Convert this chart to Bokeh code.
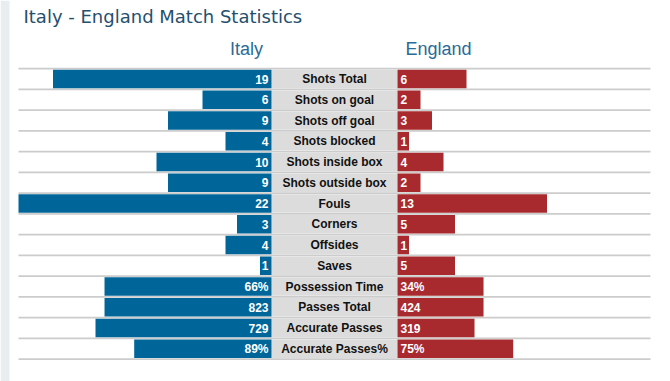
from bokeh.plotting import figure
from bokeh.models import Range1d, ColumnDataSource
from bokeh.core.properties import value
from bokeh.embed import file_html
from bokeh.resources import INLINE

title = "Italy - England Match Statistics"
team_home = "Italy"
team_away = "England"
stats = ["Shots Total", "Shots on goal", "Shots off goal", "Shots blocked",
         "Shots inside box", "Shots outside box", "Fouls", "Corners",
         "Offsides", "Saves", "Possession Time", "Passes Total",
         "Accurate Passes", "Accurate Passes%"]
home = [19, 6, 9, 4, 10, 9, 22, 3, 4, 1, 66, 823, 729, 89]
away = [6, 2, 3, 1, 4, 2, 13, 5, 1, 5, 34, 424, 319, 75]
pct = [False] * 10 + [True, False, False, True]
# rows scaled against the largest count; the last four against their own row total
share_row = [False] * 10 + [True, True, True, True]

W, H = 670, 381
CX = 334              # center of label column
FULL = 253            # px for a full-length bar
HALF_BOX = 63
ROW0, ROWH = 78.5, 20.75
BAR_H = 18.5

max_count = max(max(h, a) for h, a, s in zip(home, away, share_row) if not s)

rows_y, h_left, h_right, a_left, a_right = [], [], [], [], []
h_lbl, a_lbl = [], []
for i, (h, a, s, pc) in enumerate(zip(home, away, share_row, pct)):
    denom = (h + a) if s else max_count
    y = ROW0 + ROWH * i
    rows_y.append(y)
    h_right.append(CX - HALF_BOX)
    h_left.append(CX - HALF_BOX - FULL * h / denom)
    a_left.append(CX + HALF_BOX)
    a_right.append(CX + HALF_BOX + FULL * a / denom)
    h_lbl.append(f"{h}%" if pc else str(h))
    a_lbl.append(f"{a}%" if pc else str(a))

n = len(stats)
src = ColumnDataSource(dict(y=rows_y, hl=h_left, hr=h_right, al=a_left, ar=a_right,
                            stat=stats, hlbl=h_lbl, albl=a_lbl,
                            bl=[CX - HALF_BOX] * n, br=[CX + HALF_BOX] * n,
                            hx=[CX - HALF_BOX - 3] * n, ax=[CX + HALF_BOX + 3] * n,
                            cx=[CX] * n))

p = figure(width=W, height=H, output_backend="svg", toolbar_location=None,
           x_range=Range1d(0, W), y_range=Range1d(H, 0),
           min_border=0, outline_line_color=None)
p.axis.visible = False
p.grid.visible = False
p.background_fill_color = "white"
p.border_fill_color = "white"

# left page strip
p.quad(left=[0], right=[9], top=[0], bottom=[H], fill_color="#e8edf0", line_color=None)

# separators
sep_y = [ROW0 - ROWH / 2 + ROWH * k for k in range(n + 1)]
p.segment(x0=[18] * len(sep_y), x1=[650] * len(sep_y), y0=sep_y, y1=sep_y,
          line_color="#cccccc", line_width=1.6)

p.hbar(y="y", left="bl", right="br", height=BAR_H, source=src,
       fill_color="#dcdcdc", line_color=None)
p.hbar(y="y", left="hl", right="hr", height=BAR_H, source=src,
       fill_color="#006699", line_color=None)
p.hbar(y="y", left="al", right="ar", height=BAR_H, source=src,
       fill_color="#a92a2e", line_color=None)

font = value("Liberation Sans")
p.text(x="hx", y="y", text="hlbl", source=src, text_align="right", text_baseline="middle",
       text_color="white", text_font=font, text_font_style="bold", text_font_size="12px")
p.text(x="ax", y="y", text="albl", source=src, text_align="left", text_baseline="middle",
       text_color="white", text_font=font, text_font_style="bold", text_font_size="12px")
p.text(x="cx", y="y", text="stat", source=src, text_align="center", text_baseline="middle",
       text_color="#111111", text_font=font, text_font_style="bold", text_font_size="12px")

p.text(x=[23], y=[16], text=[title], text_align="left", text_baseline="middle",
       text_color="#24506e", text_font=value("DejaVu Sans"), text_font_size="18px")
p.text(x=[246, 438], y=[48, 48], text=[team_home, team_away], text_align="center",
       text_baseline="middle", text_color="#2a6a96", text_font=font, text_font_size="18px")

open("out.html", "w").write(file_html(p, INLINE))
